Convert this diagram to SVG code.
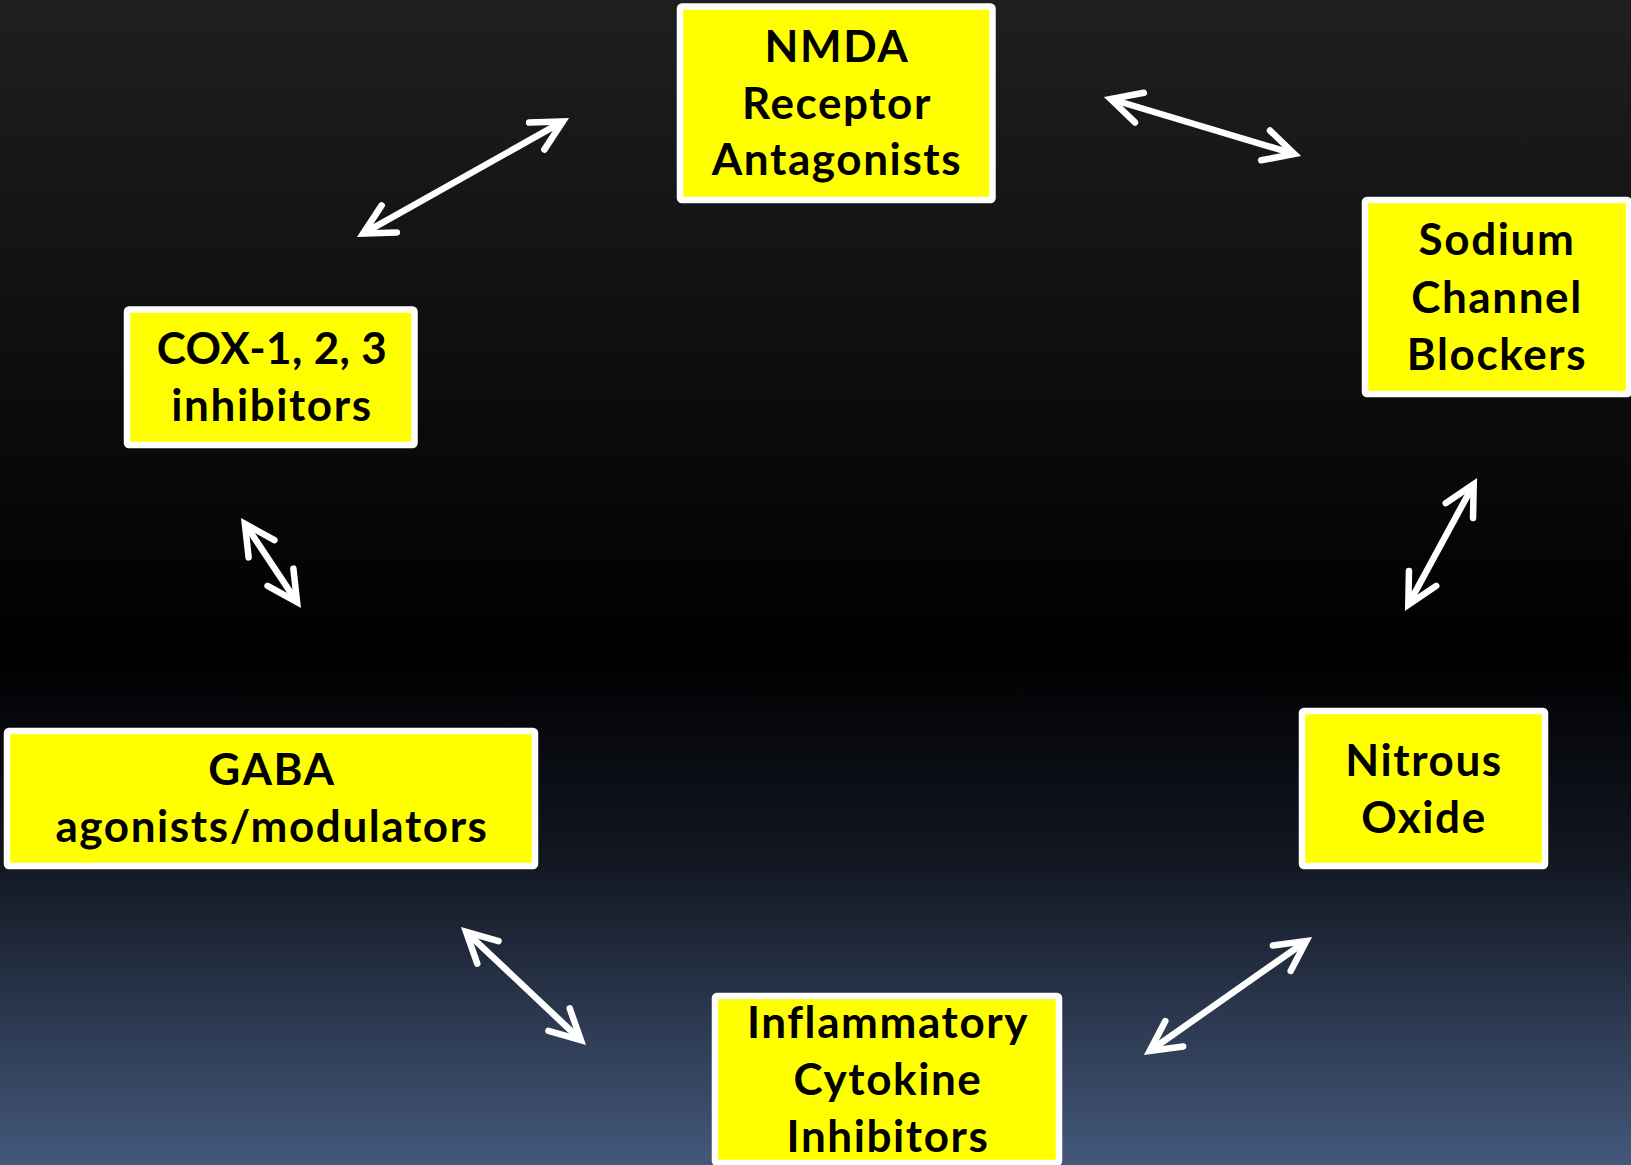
<svg xmlns="http://www.w3.org/2000/svg" width="1631" height="1165" viewBox="0 0 1631 1165">
  <defs>
    <linearGradient id="bg" x1="0" y1="0" x2="0" y2="1">
      <stop offset="0" stop-color="#1f1f1f"/>
      <stop offset="0.56" stop-color="#000000"/>
      <stop offset="0.74" stop-color="#121722"/>
      <stop offset="1" stop-color="#44587b"/>
    </linearGradient>
    <marker id="head" markerUnits="userSpaceOnUse" orient="auto-start-reverse" refX="0" refY="0" markerWidth="60" markerHeight="60" viewBox="-40 -30 60 60" overflow="visible">
      <path d="M-30,-15.5 L0,0 L-30,15.5" fill="none" stroke="#ffffff" stroke-width="6.5" stroke-linecap="round" stroke-linejoin="miter"/>
    </marker>
    <style>
      .box { fill: #ffff00; stroke: #ffffff; stroke-width: 6.5; }
      .lbl { font-family: Lato, "Liberation Sans", sans-serif; font-weight: bold; font-size: 44px; letter-spacing: 1.6px; fill: #000000; text-anchor: middle; }
      .conn { stroke: #ffffff; stroke-width: 6.5; fill: none; marker-start: url(#head); marker-end: url(#head); }
    </style>
  </defs>
  <rect x="0" y="0" width="1631" height="1165" fill="url(#bg)"/>

  <g id="connectors">
    <line class="conn" x1="562.9" y1="121.4" x2="363.1" y2="233.6"/>
    <line class="conn" x1="1110.7" y1="99" x2="1294.3" y2="154"/>
    <line class="conn" x1="1473.7" y1="484.2" x2="1408.3" y2="604.8"/>
    <line class="conn" x1="244.9" y1="523.8" x2="297.1" y2="602.2"/>
    <line class="conn" x1="466.1" y1="931.8" x2="580.9" y2="1040.2"/>
    <line class="conn" x1="1306.3" y1="941" x2="1149.7" y2="1051"/>
  </g>

  <g id="nmda">
    <rect class="box" x="680" y="6.5" width="312.5" height="193.5" rx="2"/>
    <text class="lbl" x="837" y="62">NMDA</text>
    <text class="lbl" x="837" y="119">Receptor</text>
    <text class="lbl" x="837" y="175">Antagonists</text>
  </g>

  <g id="sodium">
    <rect class="box" x="1365" y="200" width="264" height="194" rx="2"/>
    <text class="lbl" x="1497" y="255">Sodium</text>
    <text class="lbl" x="1497" y="313">Channel</text>
    <text class="lbl" x="1497" y="370">Blockers</text>
  </g>

  <g id="cox">
    <rect class="box" x="127" y="309.5" width="287.5" height="135.5" rx="2"/>
    <text class="lbl" x="272" y="364" style="letter-spacing:0.4px">COX-1, 2, 3</text>
    <text class="lbl" x="272" y="421">inhibitors</text>
  </g>

  <g id="gaba">
    <rect class="box" x="7" y="731" width="528" height="135" rx="2"/>
    <text class="lbl" x="272" y="785">GABA</text>
    <text class="lbl" x="272" y="842">agonists/modulators</text>
  </g>

  <g id="nitrous">
    <rect class="box" x="1302" y="711" width="243" height="155" rx="2"/>
    <text class="lbl" x="1424" y="776">Nitrous</text>
    <text class="lbl" x="1424" y="833">Oxide</text>
  </g>

  <g id="inflammatory">
    <rect class="box" x="715" y="996" width="344" height="167" rx="2"/>
    <text class="lbl" x="888" y="1038">Inflammatory</text>
    <text class="lbl" x="888" y="1095">Cytokine</text>
    <text class="lbl" x="888" y="1152">Inhibitors</text>
  </g>
</svg>
